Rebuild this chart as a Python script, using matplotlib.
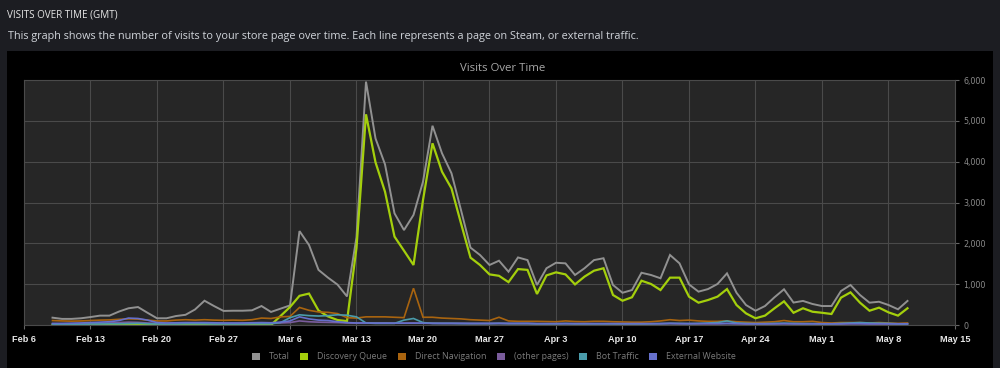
# coding:utf-8
# Steam store page: visits over time

import numpy as np
import pandas as pd
import matplotlib
matplotlib.use("Agg")
import matplotlib.pyplot as plt
import matplotlib.dates as mdates
from matplotlib.patches import Rectangle, Patch
from matplotlib.ticker import FuncFormatter


# daily points, Feb 9 -> May 10
start_day = "2023-02-09"
end_day = "2023-05-10"

total = [
    # Feb 9-28
    180, 150, 150, 165, 195, 230, 230, 330, 410, 440,
    300, 165, 165, 220, 250, 380, 595, 465, 345, 350,
    # Mar
    350, 360, 465, 320, 400, 480, 2300, 1960, 1350, 1160,
    990, 700, 2150, 5960, 4570, 3935, 2735, 2325, 2695, 3510,
    4880, 4205, 3715, 2815, 1895, 1715, 1470, 1575, 1305, 1655,
    1590,
    # Apr
    980, 1390, 1525, 1510, 1225, 1390, 1590, 1635, 980, 790,
    857, 1280, 1225, 1145, 1715, 1510, 995, 817, 880, 1005,
    1265, 790, 490, 350, 465, 680, 875, 550, 590, 515,
    # May 1-10
    465, 465, 833, 980, 735, 547, 570, 490, 385, 590,
]

discovery = [
    0, 0, 0, 0, 0, 0, 0, 0, 0, 0,
    0, 0, 0, 0, 0, 0, 0, 0, 0, 0,
    0, 0, 0, 0, 220, 440, 715, 770, 355, 210,
    122, 95, 1890, 5160, 3985, 3265, 2165, 1820, 1470, 3060,
    4450, 3755, 3345, 2490, 1650, 1470, 1240, 1205, 1050, 1370,
    1350,
    760, 1215, 1290, 1240, 995, 1185, 1330, 1390, 735, 595,
    680, 1085, 1005, 857, 1160, 1160, 695, 547, 612, 695,
    880, 490, 285, 165, 230, 410, 580, 300, 410, 325,
    300, 270, 670, 800, 547, 350, 425, 310, 230, 410,
]

direct_nav = [
    110, 100, 95, 100, 110, 120, 125, 140, 150, 145,
    120, 100, 100, 120, 130, 120, 130, 120, 115, 120,
    115, 130, 170, 160, 200, 210, 430, 360, 320, 310,
    280, 180, 170, 200, 200, 200, 190, 180, 900, 190,
    190, 170, 160, 150, 130, 120, 110, 190, 100, 90,
    90,
    90, 85, 80, 100, 85, 80, 90, 90, 80, 75,
    70, 70, 80, 100, 130, 110, 120, 100, 90, 90,
    100, 80, 70, 60, 70, 80, 110, 80, 80, 90,
    60, 50, 60, 60, 60, 50, 60, 50, 40, 50,
]

other_pages = [
    30, 30, 30, 35, 40, 45, 50, 60, 70, 65,
    50, 40, 40, 45, 45, 45, 50, 45, 40, 40,
    40, 45, 50, 45, 50, 60, 100, 80, 70, 65,
    60, 50, 45, 50, 50, 50, 45, 45, 50, 45,
    45, 40, 40, 40, 35, 35, 35, 40, 35, 35,
    35,
    30, 30, 30, 35, 30, 30, 30, 30, 30, 25,
    25, 25, 30, 30, 35, 30, 30, 30, 30, 30,
    35, 30, 25, 25, 25, 30, 30, 30, 30, 30,
    25, 25, 25, 30, 30, 25, 25, 25, 20, 20,
]

bot_traffic = [
    20, 20, 20, 20, 25, 25, 30, 30, 35, 40,
    30, 25, 25, 25, 30, 30, 30, 25, 25, 25,
    25, 30, 30, 30, 60, 180, 250, 230, 220, 230,
    250, 240, 200, 50, 40, 40, 40, 120, 160, 60,
    40, 40, 40, 35, 35, 35, 35, 40, 35, 35,
    35,
    30, 30, 30, 35, 30, 30, 30, 30, 30, 30,
    30, 30, 30, 35, 40, 40, 35, 40, 50, 60,
    100, 50, 40, 35, 35, 40, 45, 40, 35, 35,
    30, 30, 40, 50, 60, 50, 45, 40, 30, 30,
]

external = [
    40, 40, 45, 50, 60, 70, 80, 110, 170, 160,
    120, 60, 50, 55, 60, 60, 60, 55, 50, 50,
    50, 55, 60, 55, 70, 100, 200, 150, 120, 110,
    80, 60, 50, 50, 45, 45, 45, 45, 45, 45,
    40, 40, 40, 40, 40, 40, 40, 40, 40, 40,
    40,
    35, 35, 35, 35, 35, 35, 35, 35, 35, 35,
    35, 35, 35, 35, 40, 35, 35, 35, 35, 35,
    40, 35, 30, 30, 30, 30, 35, 30, 30, 30,
    30, 30, 30, 35, 35, 30, 30, 30, 30, 30,
]

series_names = ["Total", "Discovery Queue", "Direct Navigation",
                "(other pages)", "Bot Traffic", "External Website"]
series_colors = ["#919191", "#a4cf0c", "#a9640f", "#7a5c9c", "#4a9cab", "#6670cc"]
series_widths = [1.4, 1.6, 1.2, 1.2, 1.2, 1.2]

week_ticks = ["2023-02-06", "2023-02-13", "2023-02-20", "2023-02-27", "2023-03-06",
              "2023-03-13", "2023-03-20", "2023-03-27", "2023-04-03", "2023-04-10",
              "2023-04-17", "2023-04-24", "2023-05-01", "2023-05-08", "2023-05-15"]

PAGE_BG = "#1c1d22"
PLOT_BG = "#262626"
GRID = "#4a4a4a"


def main():
    days = pd.date_range(start_day, end_day, freq="D")
    data = [total, discovery, direct_nav, other_pages, bot_traffic, external]

    fig = plt.figure(figsize=(10, 3.68), dpi=100, facecolor=PAGE_BG)
    # black panel behind the chart
    fig.patches.append(Rectangle((0.007, 0.0), 0.986, 0.862, transform=fig.transFigure,
                                 facecolor="#000000", edgecolor="none", zorder=-5))

    fig.text(0.007, 0.958, "VISITS OVER TIME (GMT)", color="#e6e6e6", fontsize=7.1,
             family="Open Sans", va="center")
    fig.text(0.008, 0.902, "This graph shows the number of visits to your store page over time. "
             "Each line represents a page on Steam, or external traffic.",
             color="#d0d4da", fontsize=7.85, family="Open Sans", va="center")
    fig.text(0.503, 0.815, "Visits Over Time", color="#a8a8a8", fontsize=8.2,
             family="Open Sans", ha="center", va="center")

    ax = fig.add_axes([0.024, 0.1168, 0.931, 0.6658])
    ax.set_facecolor(PLOT_BG)
    for name, vals, col, lw in zip(series_names, data, series_colors, series_widths):
        ax.plot(days, vals, color=col, lw=lw, label=name, solid_joinstyle="miter")

    ticks = pd.to_datetime(week_ticks)
    ax.set_xlim(ticks[0], ticks[-1])
    ax.set_xticks(ticks)
    ax.xaxis.set_major_formatter(mdates.DateFormatter("%b %-d"))
    ax.set_ylim(0, 6000)
    ax.set_yticks(np.arange(0, 7000, 1000))
    ax.yaxis.set_major_formatter(FuncFormatter(lambda v, p: "{:,.0f}".format(v)))
    ax.yaxis.tick_right()

    ax.grid(True, color=GRID, lw=0.8)
    ax.set_axisbelow(True)
    for s in ax.spines.values():
        s.set_color(GRID)
        s.set_linewidth(0.8)

    ax.tick_params(axis="x", colors="#666666", length=3, width=0.8, pad=4,
                   labelcolor="#e8e8e8", labelsize=6.6)
    ax.tick_params(axis="y", colors="#666666", length=3, width=0.8, pad=3,
                   labelcolor="#8a8a8a", labelsize=5.8)
    for lab in ax.get_xticklabels():
        lab.set_fontweight("bold")
        lab.set_family(["Liberation Sans Narrow", "Liberation Sans"])

    handles = [Patch(facecolor=c, edgecolor="none") for c in series_colors]
    leg = fig.legend(handles, series_names, loc="center", bbox_to_anchor=(0.494, 0.03),
                     ncol=6, frameon=False, fontsize=6.4, handlelength=0.9,
                     handleheight=0.9, handletextpad=1.0, columnspacing=1.2)
    for t in leg.get_texts():
        t.set_color("#7a7a7a")
        t.set_family("Open Sans")

    fig.savefig("out.png", dpi=100, facecolor=PAGE_BG)
    plt.close(fig)


if __name__ == "__main__":
    main()
